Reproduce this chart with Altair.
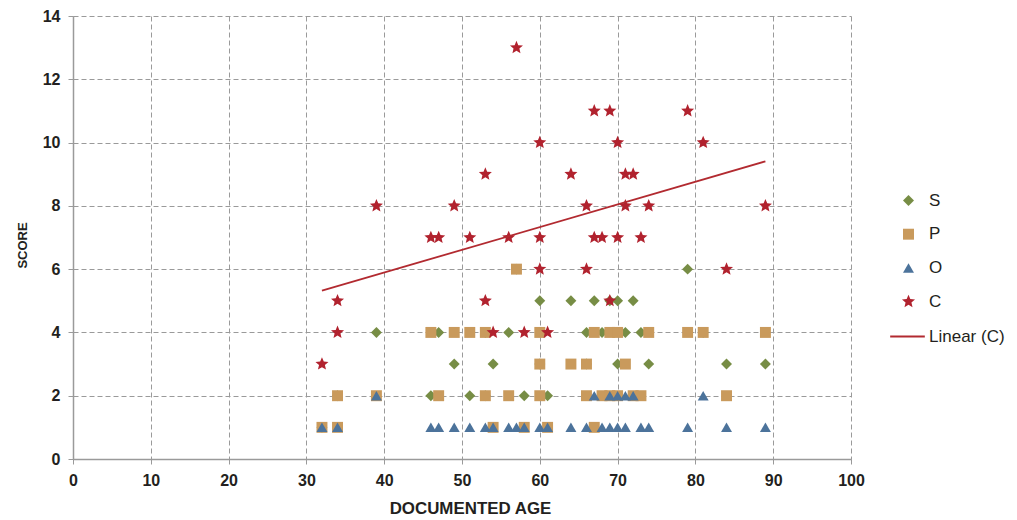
import altair as alt
import pandas as pd

# ---- data ----
S_age   = [32, 34, 46, 51, 53, 58, 61,
           49, 54, 60, 66, 70, 74, 84, 89,
           39, 47, 53, 56, 66, 68, 71, 73, 81,
           60, 64, 67, 69, 70, 72,
           57, 79]
S_score = [1, 2, 2, 2, 2, 2, 2,
           3, 3, 3, 3, 3, 3, 3, 3,
           4, 4, 4, 4, 4, 4, 4, 4, 4,
           5, 5, 5, 5, 5, 5,
           6, 6]

P_age   = [32, 34, 54, 58, 61, 67,
           34, 39, 47, 53, 56, 60, 66, 68, 69, 70, 72, 73, 84,
           60, 64, 66, 71,
           46, 49, 51, 53, 60, 67, 69, 70, 74, 79, 81, 89,
           57]
P_score = [1, 1, 1, 1, 1, 1,
           2, 2, 2, 2, 2, 2, 2, 2, 2, 2, 2, 2, 2,
           3, 3, 3, 3,
           4, 4, 4, 4, 4, 4, 4, 4, 4, 4, 4, 4,
           6]

O_age   = [32, 34, 46, 47, 49, 51, 53, 54, 56, 57, 58, 60, 61, 64, 66, 68, 69, 70,
           71, 73, 74, 79, 84, 89,
           39, 67, 69, 70, 71, 72, 81]
O_score = [1] * 24 + [2] * 7

C_age   = [32, 34, 34, 39, 46, 47, 49, 51, 53, 53, 54, 56, 57, 58, 60, 60, 60, 61,
           64, 66, 66, 67, 67, 68, 69, 69, 70, 70, 71, 72, 71, 73, 74, 79, 81, 84, 89]
C_score = [3, 5, 4, 8, 7, 7, 8, 7, 9, 5, 4, 7, 13, 4, 10, 7, 6, 4,
           9, 8, 6, 11, 7, 7, 11, 5, 10, 7, 9, 9, 8, 7, 8, 11, 10, 6, 8]

series = ["S", "P", "O", "C"]
colors = ["#778d45", "#c99a5c", "#4c739b", "#b1222e"]
STAR = ("M0,-1.25L0.331,-0.455L1.189,-0.386L0.535,0.174L0.735,1.011L0,0.563"
        "L-0.735,1.011L-0.535,0.174L-1.189,-0.386L-0.331,-0.455Z")
shapes = ["diamond", "square", "triangle-up", STAR]

rows = []
for name, xs, ys in [("S", S_age, S_score), ("P", P_age, P_score),
                     ("O", O_age, O_score), ("C", C_age, C_score)]:
    for a, s in zip(xs, ys):
        rows.append({"series": name, "age": a, "score": s})
df = pd.DataFrame(rows)

FONT = "Liberation Sans"

x_enc = alt.X("age:Q", scale=alt.Scale(domain=[0, 100], nice=False),
              axis=alt.Axis(title="DOCUMENTED AGE", values=list(range(0, 101, 10)),
                            titleX=397, titleY=49, titleBaseline="middle",
                            titleFontSize=16.9))
y_enc = alt.Y("score:Q", scale=alt.Scale(domain=[0, 14], nice=False),
              axis=alt.Axis(title="SCORE", values=list(range(0, 15, 2)),
                            titleX=-51, titleY=229, titleBaseline="middle",
                            titleAngle=-90, titleAlign="center", titleFontSize=13))

points = alt.Chart(df).mark_point(filled=True, opacity=1, strokeWidth=0, size=120).encode(
    x=x_enc,
    y=y_enc,
    color=alt.Color("series:N", scale=alt.Scale(domain=series, range=colors),
                    sort=series,
                    legend=alt.Legend(title=None, orient="none", legendX=827, legendY=176,
                                      labelOffset=12, rowPadding=15.7, labelFontSize=17,
                                      symbolSize=120, padding=0)),
    shape=alt.Shape("series:N", scale=alt.Scale(domain=series, range=shapes),
                    sort=series, legend=alt.Legend(title=None)),
)

trend = alt.Chart(df).transform_filter(
    alt.datum.series == "C"
).transform_regression("age", "score").transform_calculate(
    label="'Linear (C)'"
).mark_line(strokeWidth=1.8).encode(
    x="age:Q",
    y="score:Q",
    stroke=alt.Stroke("label:N", scale=alt.Scale(range=["#b22a30"]),
                      legend=alt.Legend(title=None, orient="none", legendX=816, legendY=302,
                                        symbolType="stroke", symbolSize=1200,
                                        symbolStrokeWidth=1.8, labelOffset=3,
                                        labelFontSize=17, padding=0)),
)

chart = alt.layer(points, trend).properties(
    width=778, height=443,
    autosize=alt.AutoSizeParams(type="none"),
    padding={"left": 65, "top": 8, "right": 158, "bottom": 61},
).configure_view(strokeWidth=0).configure_axis(
    labelFont=FONT, titleFont=FONT, labelFontSize=16, labelFontWeight="bold",
    labelColor="#231f20", titleColor="#231f20", titleFontWeight="bold",
    grid=True, gridColor="#9a9a9a", gridDash=[5, 3], gridWidth=1,
    domainColor="#9a9a9a", domainWidth=1.5, tickColor="#9a9a9a", tickSize=5,
    labelPadding=8, labelFlush=False,
).configure_legend(
    labelFont=FONT, labelColor="#231f20",
)

chart.save("out.html", embed_options={"renderer": "svg", "actions": False})
